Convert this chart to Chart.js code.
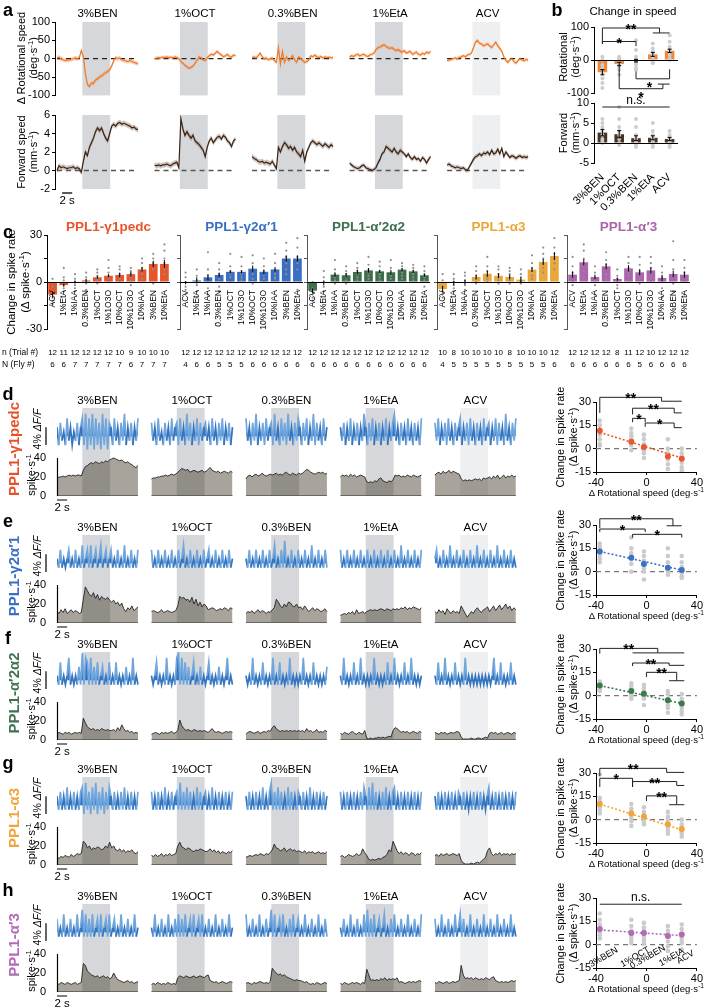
<!DOCTYPE html>
<html>
<head>
<meta charset="utf-8">
<title>PPL1 spike rate and walking speed</title>
<script src="https://cdn.jsdelivr.net/npm/chart.js@4.4.1/dist/chart.umd.min.js"></script>
<style>
  body { margin: 0; background: #fff; }
  #fig { position: relative; width: 704px; height: 1008px; overflow: hidden; background: #fff; }
  #fig canvas { position: absolute; }
  .t { position: absolute; white-space: nowrap; color: #000; font-family: "Liberation Sans", Arial, sans-serif; line-height: 1; }
  .t sup { font-size: 70%; }
</style>
</head>
<body>
<div id="fig"></div>
<script>
// odours used in a, b and d-h
const odors = ['3%BEN', '1%OCT', '0.3%BEN', '1%EtA', 'ACV'];

// ---- panel a: mean traces (0.4 s bins, 16 s per trial)
const rotBEN3 = [2,4,0,-3,-5,-4,-4,-2,0,2,0,3,22, 5,-40,-70,-76,-66,-68,-58,-55,-50,-47,-42,-38,-35,-30, -20,-5,3,0,2,-3,-5,-6,-8,-5,-8,-10,-12,-14];
const rotOCT1 = [0,2,3,2,4,3,5,3,4,2,5,3,0, -8,-12,-18,-22,-26,-24,-20,-12,-5,5,2,-3,-5,3, 8,12,10,15,20,14,10,5,8,12,6,4,10,8];
const rotBEN03 = [3,5,2,8,15,5,0,2,-3,0,2,-5,-10, 30,-15,20,-10,5,-5,0,8,-3,-10,5,0,-5,-10, -8,-3,8,5,10,5,3,6,2,5,3,4,2,3];
const rotEtA1 = [5,8,6,10,12,8,10,12,8,6,10,12,15, 25,30,32,35,38,33,30,28,30,25,22,25,20,18, 22,15,18,20,12,15,18,12,10,15,12,18,15,20];
const rotACV = [-5,-4,-2,0,2,0,3,5,8,5,10,12,15, 30,45,50,42,40,35,38,40,35,30,38,45,35,28, 20,5,-5,-10,-3,0,-8,-12,-5,0,-3,-6,-2,-4];
const rotTraceSem = [6, 5, 5, 5, 5];

const fwdBEN3 = [0,0.5,0.3,0.4,0.3,0.2,0.3,0.3,0.4,0.2,0.3,0.2,-0.2, 1.0,2.0,1.6,2.5,3.0,3.5,4.2,4.6,4.3,4.6,4.0,3.5,3.2,4.0, 4.8,5.0,4.8,5.1,5.2,5.0,5.1,5.0,4.9,4.8,4.6,4.7,4.5,4.4];
const fwdOCT1 = [0.6,0.5,0.6,0.5,0.6,0.6,0.7,0.6,0.5,0.7,0.8,0.9,0.3, 5.6,4.5,3.8,4.2,3.8,3.5,3.8,3.2,3.0,2.8,2.5,2.2,1.5,2.5, 3.2,3.5,3.0,3.3,3.6,3.7,3.4,3.8,3.6,3.2,3.0,2.6,3.2,3.4];
const fwdBEN03 = [1.5,1.3,1.2,1.0,0.9,1.0,0.8,0.9,0.8,0.7,1.0,0.6,0.2, 2.5,2.0,2.6,3.0,2.8,2.4,2.6,2.2,2.5,2.0,1.8,1.5,2.2,1.0, 2.0,2.5,3.0,3.2,3.0,2.8,3.0,2.8,2.6,2.9,2.7,2.5,2.8,2.6];
const fwdEtA1 = [0.8,0.6,0.4,0.3,0.2,0.3,0.5,0.6,0.3,0.2,0.1,0.0,0.1, 0.3,0.8,1.2,1.8,2.0,2.6,2.4,2.2,2.0,2.4,2.0,1.8,2.2,2.0, 1.8,1.5,1.8,1.4,1.2,1.5,1.2,1.3,1.0,1.4,1.2,0.8,1.2,1.5];
const fwdACV = [0.6,0.7,0.5,0.4,0.3,0.4,0.3,0.2,0.3,0.1,0.0,0.4,0.8, 1.2,1.5,1.6,1.8,1.6,1.9,1.8,2.0,1.7,2.2,1.8,1.9,2.3,1.8, 2.4,1.5,2.0,1.7,1.4,1.6,1.5,1.3,1.5,1.6,1.4,1.5,1.4,1.5];
const fwdTraceSem = [0.3, 0.3, 0.3, 0.25, 0.25];

// ---- panel b: change in speed
const rotMean = [-37, -12, -2, 17, 28];
const rotSem = [8, 5, 4, 6, 5];
const rotDots = [[10,0,-15,-25,-40,-55,-70,-85],[10,5,0,-5,-12,-20,-30,-45],[60,30,10,0,-8,-15,-25,-30],[50,35,25,15,8,0,-5,-10],[75,55,40,30,25,15,5,0]];
const fwdMean = [2.6, 2.2, 1.2, 1.3, 1.0];
const fwdSem = [0.8, 0.9, 0.6, 0.5, 0.4];
const fwdDots = [[6,5,4,3,2,1,0.5,0],[9,6,4,3,2,1,0,-0.5],[6,4,2,1,0.5,0,-0.5,-1],[5,3,2,1,0.5,0,-0.5,-1],[3,2,1.5,1,0.5,0,-0.5,-1]];
const rotBrackets = [
  {x1: 0, x2: 3.4, y: 97, y1: 50, y2: 82, sub: [3, 4], t: '**'},
  {x1: 0, x2: 2, y: 56, y1: 48, y2: 42, t: '*'},
  {x1: 2, x2: 4, y: -57, y1: -35, y2: -28, t: '*', tx: 2.8},
  {x1: 1, x2: 3.6, y: -87, y1: -15, y2: -73, sub: [3.3, 4], t: '*'}
];
const fwdBrackets = [{x1: 0, x2: 4, y: 9, y1: 9, y2: 9, t: 'n.s.'}];

// ---- panel c: change in spike rate per odour
const cOdors = ['ACV','1%EtA','1%IAA','0.3%BEN','1%OCT','1%1O3O','10%OCT','10%1O3O','10%IAA','3%BEN','10%EtA'];
const cNames = ['PPL1-γ1pedc', 'PPL1-γ2α′1', 'PPL1-α′2α2', 'PPL1-α3', 'PPL1-α′3'];
const cColors = ['#e8552b', '#3a6ec3', '#3e6f4c', '#eaa73b', '#ad63ae'];
const meanG1pedc = [-8, -2, 0, 1, 3, 4, 4.5, 5, 8, 11.5, 11.5];
const meanG2a1 = [-0.5, 1, 3, 4.5, 6.5, 6.5, 8.5, 6.5, 8, 15, 15];
const meanA2a2 = [-5.5, -0.5, 4.7, 4.3, 6.4, 7.4, 6.8, 6.2, 7.9, 6.8, 4.3];
const meanA3 = [-4.5, -0.6, 0, 3.2, 5.3, 4, 3.2, 1.5, 7.9, 12.8, 16.6];
const meanAp3 = [4.7, 12.6, 3.2, 10, 1.9, 8.7, 6.2, 7.4, 2.6, 5.1, 4.7];
const semG1pedc = [2, 1, 1, 1, 1, 1, 1.5, 1.5, 1.5, 2, 2.5];
const semG2a1 = [1, 2, 2, 1.5, 1, 1, 2, 1.5, 1.5, 2, 2];
const semA2a2 = [1.5, 1.5, 1.5, 1.5, 1.5, 1.5, 1, 1.5, 1, 1, 1];
const semA3 = [2, 1.5, 1.5, 1.5, 2, 1.5, 1.5, 1.5, 1.5, 2, 2.5];
const semAp3 = [2, 2, 1.5, 2, 1, 2, 2, 2, 2, 2, 2];
const dotsG1pedc = [[-3,-6,-10,-12,-14,-8,2],[9,3,1,-2,-4,-6],[5,2,0,-2,-4,-6],[6,3,1,-1,-5,-7],[8,6,4,2,1,-1],[14,9,6,4,2,0],[10,8,5,4,2,0],[9,7,5,3,1,-2],[15,12,9,7,5,2],[18,15,12,10,8,-1],[24,20,15,12,8,5]];
const dotsG2a1 = [[6,3,0,-3,-5,-8],[8,4,1,-2,-6,-10],[19,8,4,0,-4,-8],[12,8,5,2,-3,-6],[18,10,7,5,3,0],[16,10,7,5,3,1],[17,12,8,5,2,-1],[15,10,7,4,2,0],[18,12,8,5,3,2],[25,20,16,12,8,5],[28,22,16,12,8,-5]];
const dotsA2a2 = [[0,-4,-6,-8,-10,-12],[7,3,0,-3,-6,-11],[14,8,5,3,1,-1],[10,7,5,3,1,-1],[12,9,7,5,3,1],[16,11,8,6,4,2],[13,10,7,5,3,1],[14,9,6,4,2,0],[12,10,8,6,4,2],[11,9,7,5,3,1],[10,7,5,3,1,-3]];
const dotsA3 = [[5,1,-3,-6,-8,-10],[5,2,0,-2,-4,-6],[6,4,1,-2,-5,-13],[10,7,4,2,0,-1],[16,10,7,4,2,0],[10,8,5,3,1,-1],[9,7,5,3,1,-1],[8,5,3,1,0,-1],[17,12,9,7,4,2],[22,18,15,12,9,6],[28,22,18,15,12,8]];
const dotsAp3 = [[16,10,6,3,0,-2],[24,20,15,11,7,3],[10,6,3,1,-2,-8],[19,14,11,8,5,2],[8,4,2,0,-2,-4],[16,12,9,6,4,1],[16,11,7,4,2,-1],[16,12,9,6,3,0],[10,6,3,0,-4,-10],[26,14,8,4,-1,-6],[14,9,6,3,0,-8]];
const trialsG1pedc = [12,11,12,12,12,12,10,9,10,10,10];
const trialsG2a1 = [12,12,12,12,12,12,12,12,12,12,12];
const trialsA2a2 = [12,12,12,12,12,12,12,12,12,12,12];
const trialsA3 = [10,8,10,10,10,10,8,10,10,10,12];
const trialsAp3 = [12,12,12,12,8,11,12,10,12,12,12];
const fliesG1pedc = [6,6,7,7,7,7,7,6,7,7,7];
const fliesG2a1 = [4,6,6,5,5,5,6,6,6,6,6];
const fliesA2a2 = [6,6,6,6,6,6,6,6,6,6,6];
const fliesA3 = [4,5,5,5,5,5,5,5,5,5,6];
const fliesAp3 = [6,6,6,6,6,6,5,6,6,6,6];

// ---- panels d-h: ΔF/F traces (% , 1/3 s bins) and spike rate (spike/s, 0.4 s bins)
const blueG1pedc = [
  [2,-2,3,-1,1,-2,4,-1,2,-2,1,-1,3,-2,2, 4,-2,5,-3,4,-2,5,-3,4,-2,3,-3,5,-2,4,-3,3, 2,-2,4,-1,2,-2,3,-1,5,-2,2,-1,3,-2,2,-1,4],
  [3,-1,2,-2,4,-1,1,-2,3,-1,2,-2,4,-1,2, 3,-2,4,-1,2,-2,5,-1,3,-2,2,-1,4,-2,3,-1,2, 3,-1,2,-2,4,-1,2,-2,3,-1,4,-2,2,-1,3,-2,2],
  [4,-1,2,-2,3,-1,5,-2,2,-1,3,-2,4,-1,2, 3,-2,5,-1,2,-2,4,-1,3,-2,5,-1,2,-2,3,-1,4, 2,-2,3,-1,4,-2,2,-1,5,-2,3,-1,2,-2,4,-1,2],
  [2,-1,3,-2,2,-1,4,-2,2,-1,3,-2,2,-1,5, 2,-2,3,-1,4,-2,2,-1,3,-2,2,-1,4,-2,2,-1,3, 5,-1,2,-2,3,-1,2,-2,4,-1,2,-2,3,-1,2,-2,4],
  [3,-1,4,-2,2,-1,3,-2,4,-1,2,-2,3,-1,2, 4,-2,2,-1,3,-2,4,-1,2,-2,3,-1,2,-2,4,-1,2, 3,-2,2,-1,4,-2,3,-1,2,-2,5,-1,2,-2,3,-1,4]
];
const blueG2a1 = [
  [1,-1,3,-1,1,-1,1,3,-1,1,-1,3,-1,1,-1, 4,-1,1,3,-1,4,-1,1,3,-1,1,4,-1,1,3,-1,1, 3,-1,1,-1,3,-1,1,-1,4,-1,1,-1,3,-1,1,-1,3],
  [3,-1,1,-1,3,-1,1,-1,3,-1,1,-1,3,-1,1, -1,3,-1,1,4,-1,1,-1,3,-1,1,-1,3,-1,1,-1,3, -1,1,3,-1,1,-1,3,-1,1,-1,3,-1,1,-1,3,-1,1],
  [1,-1,3,-1,1,-1,3,-1,1,-1,3,-1,1,-1,3, -1,1,4,-1,1,-1,3,-1,5,-1,1,-1,3,-1,1,-1,3, -1,1,-1,3,-1,1,-1,4,-1,1,-1,3,-1,1,-1,3,-1],
  [3,-1,1,-1,3,-1,1,-1,3,-1,1,-1,3,-1,1, -1,3,-1,1,-1,3,-1,1,-1,3,-1,1,-1,3,-1,1,-1, 3,-1,1,-1,4,-1,1,-1,3,-1,1,-1,3,-1,1,-1,3],
  [1,3,-1,1,-1,3,-1,1,-1,4,-1,1,-1,3,-1, 1,-1,3,-1,1,-1,3,-1,1,-1,4,-1,1,-1,3,-1,1, -1,3,-1,1,-1,4,-1,1,-1,3,-1,1,-1,3,-1,1,-1]
];
const blueA2a2 = [
  [1,-1,4,-1,1,-1,1,5,-1,1,-1,1,-1,3,-1, 6,-1,5,4,-1,5,-1,3,-1,4,-1,1,3,-1,1,-1,4, -1,1,-1,4,-1,1,-1,1,-1,3,-1,1,-1,5,-1,1,-1],
  [1,-1,1,4,-1,1,-1,1,-1,5,-1,1,-1,1,-1, 5,6,-1,5,-1,4,-1,3,-1,1,4,-1,1,-1,3,-1,1, -1,1,4,-1,1,-1,1,-1,3,-1,1,-1,1,5,-1,1,-1],
  [1,-1,1,-1,5,-1,1,-1,1,-1,4,-1,1,-1,1, -1,5,-1,1,-1,4,-1,1,-1,1,-1,5,-1,1,-1,1,-1, 1,-1,5,-1,1,-1,1,-1,4,-1,1,-1,1,-1,1,-1,3],
  [1,-1,5,-1,1,-1,1,-1,4,-1,1,-1,5,-1,1, -1,1,-1,1,-1,5,-1,1,-1,1,-1,1,-1,4,-1,1,-1, 5,-1,1,-1,1,-1,4,-1,1,-1,5,-1,1,-1,1,-1,1],
  [1,-1,4,-1,1,-1,5,-1,1,-1,1,-1,4,-1,1, -1,1,-1,5,-1,1,-1,1,-1,1,-1,1,-1,1,-1,1,-1, 1,-1,1,5,-1,1,-1,4,-1,1,-1,1,-1,4,-1,1,-1]
];
const blueA3 = [
  [2,-1,3,-1,2,-1,4,-1,2,-1,3,-1,2,-1,3, 4,-2,5,-1,3,-2,4,-1,5,-2,3,-1,4,-2,3,-1,4, 2,-1,3,-1,2,-1,3,-1,4,-1,2,-1,3,-1,2,-1,3],
  [3,-1,2,-1,3,-1,2,-1,4,-1,2,-1,3,-1,2, 3,-1,5,-1,3,-1,4,-1,3,-1,2,-1,4,-1,3,-1,2, 3,-1,2,-1,4,-1,2,-1,3,-1,2,-1,3,-1,2,-1,3],
  [2,-1,3,-1,2,-1,3,-1,2,-1,4,-1,2,-1,3, 5,-1,3,-1,4,-1,3,-1,2,-1,4,-1,3,-1,2,-1,3, 2,-1,3,-1,2,-1,4,-1,2,-1,3,-1,2,-1,3,-1,2],
  [3,-1,2,-1,3,-1,2,-1,3,-1,2,-1,3,-1,4, 2,-1,4,-1,5,-1,3,-1,2,-1,3,-1,4,-1,2,-1,3, 4,-1,2,-1,3,-1,2,-1,3,-1,2,-1,3,-1,2,-1,3],
  [2,-1,3,-1,2,-1,3,-1,2,-1,3,-1,2,-1,3, 2,-1,3,-1,2,-1,2,-1,3,-1,2,-1,3,-1,2,-1,2, 4,-1,2,-1,3,-1,2,-1,3,-1,2,-1,3,-1,2,-1,3]
];
const blueAp3 = [
  [3,-1,1,-1,4,-1,1,-1,3,-1,1,-1,4,-1,1, 5,-1,4,-1,3,-1,4,-1,1,3,-1,4,-1,1,3,-1,4, -1,1,3,-1,1,-1,4,-1,1,-1,3,-1,1,-1,4,-1,1],
  [1,-1,4,-1,1,-1,3,-1,1,-1,4,-1,1,-1,3, -1,4,-1,3,-1,4,-1,1,3,-1,4,-1,1,3,-1,4,-1, 1,-1,3,-1,1,-1,4,-1,1,-1,3,-1,1,-1,4,-1,1],
  [4,-1,1,-1,3,-1,1,-1,4,-1,1,-1,3,-1,1, 5,-1,4,-1,1,3,-1,4,-1,1,-1,3,-1,4,-1,1,3, -1,1,-1,4,-1,1,-1,3,-1,1,-1,4,-1,1,-1,3,-1],
  [1,-1,3,-1,1,-1,4,-1,1,-1,3,-1,1,-1,4, -1,5,-1,3,-1,4,-1,1,3,-1,1,4,-1,1,-1,3,-1, 4,-1,1,-1,3,-1,1,-1,4,-1,1,-1,3,-1,1,-1,4],
  [3,-1,1,-1,4,-1,1,-1,3,-1,1,-1,4,-1,1, 4,-1,3,-1,1,-1,4,-1,1,-1,3,-1,1,-1,4,-1,1, -1,3,-1,1,-1,4,-1,1,-1,3,-1,1,-1,4,-1,1,-1]
];
const spikeG1pedc = [
  [18,20,20,21,20,21,22,21,22,21,22,22,21, 27,31,32,34,35,34,36,35,34,36,35,37,36,38, 39,40,39,38,37,38,36,35,36,34,33,31,30,32],
  [18,19,19,20,20,21,21,22,21,22,23,22,23, 25,27,29,28,27,28,25,26,27,26,25,26,27,25, 26,28,30,27,26,25,26,24,25,26,25,24,26,25],
  [18,21,22,20,22,23,21,22,24,22,21,22,23, 22,23,24,22,23,22,24,25,23,22,24,23,22,24, 23,24,26,28,27,25,24,23,24,25,24,25,23,24],
  [20,22,21,22,20,23,21,22,20,21,22,21,20, 15,14,15,14,16,15,18,19,16,15,14,16,15,17, 22,21,22,20,21,20,22,21,20,22,21,20,21,22],
  [22,24,25,23,26,24,25,27,24,26,25,24,23, 18,16,17,16,17,16,17,18,17,18,16,19,18,19, 20,18,21,19,22,18,20,22,19,21,20,22,20,21]
];
const spikeG2a1 = [
  [12,10,14,11,15,10,12,14,11,13,12,10,11, 25,38,34,30,28,32,26,30,24,28,26,25,27,24, 22,24,20,22,18,21,15,12,16,14,18,13,15,17],
  [12,13,12,11,12,14,11,12,13,12,11,12,13, 18,28,26,27,24,25,22,27,20,25,18,22,17,20, 18,14,15,16,15,13,14,15,14,16,15,13,16,15],
  [10,12,11,13,10,12,14,11,13,12,10,12,11, 14,16,25,22,18,16,20,17,22,21,18,17,20,16, 17,14,18,15,12,14,16,13,15,14,12,13,15,12],
  [8,9,10,9,11,10,12,9,14,10,11,12,10, 12,13,14,13,14,13,14,15,14,13,15,14,13,15, 14,15,14,16,15,17,14,16,15,17,16,15,14,16],
  [12,10,14,11,13,9,15,12,10,13,11,12,10, 18,14,10,6,9,12,10,14,16,13,11,14,15,17, 12,15,18,13,16,19,14,17,20,15,18,13,16,14]
];
const spikeA2a2 = [
  [6,8,7,6,8,7,8,6,7,8,7,8,7, 23,18,14,12,11,12,10,11,10,12,11,10,11,10, 10,11,9,13,10,16,12,9,10,8,9,7,8,7],
  [6,7,8,7,6,8,7,8,7,8,9,7,8, 10,21,15,12,10,11,10,9,11,10,9,10,9,10, 9,8,10,12,9,8,9,8,7,8,9,8,9,8],
  [6,8,9,8,7,8,9,7,8,9,8,10,9, 13,15,12,10,9,10,9,10,9,10,9,10,9,10, 9,10,8,12,9,10,8,9,11,8,9,8,10,9],
  [7,6,8,7,6,8,9,7,6,8,7,6,10, 2,1,2,1,2,2,3,2,3,2,3,4,3,10, 13,12,10,8,9,8,9,7,8,9,8,7,9,8],
  [8,7,6,8,7,8,6,7,8,7,8,9,8, 3,1,1,1,1,2,1,1,2,2,1,2,3,2, 7,8,7,8,6,7,8,6,7,8,7,6,8,7]
];
const spikeA3 = [
  [8,7,9,8,10,9,8,11,9,10,12,11,12, 25,23,18,20,16,18,17,19,18,16,17,20,18,24, 18,20,16,15,17,14,16,13,15,14,16,13,12,14],
  [10,9,11,9,10,12,9,11,10,12,10,11,12, 20,24,19,18,16,18,17,15,14,16,15,17,16,15, 14,15,17,14,16,13,15,12,14,13,12,14,13,15],
  [8,9,10,9,10,11,10,12,11,10,12,11,13, 16,22,18,17,15,16,18,14,16,17,15,16,14,15, 14,13,15,12,14,13,14,12,13,14,12,13,12,14],
  [9,10,8,9,11,10,9,10,12,10,11,17,13, 10,6,5,6,5,6,7,6,8,9,11,16,14,25, 20,15,12,14,11,13,12,10,13,12,10,12,11,13],
  [10,11,9,12,10,11,12,10,11,12,11,10,12, 5,2,1,1,1,2,1,2,3,2,4,6,8,15, 18,12,10,12,11,13,10,12,11,12,10,12,11,12]
];
const spikeAp3 = [
  [9,8,10,9,8,10,9,8,9,10,8,9,10, 30,28,22,20,18,17,16,17,15,16,17,15,16,14, 15,20,16,13,12,11,10,11,12,10,11,9,10,11],
  [8,9,8,10,9,8,9,8,10,9,8,9,8, 15,17,16,15,17,16,15,16,17,15,16,17,16,15, 17,18,12,11,10,11,9,10,11,10,9,10,11,10],
  [9,10,9,8,10,9,10,11,10,9,10,9,11, 25,22,20,18,19,17,18,16,15,14,13,12,13,12, 12,11,10,11,9,8,9,8,10,9,8,9,10,9],
  [9,8,10,9,8,9,10,9,10,9,8,10,9, 24,18,12,13,12,13,12,14,13,15,12,14,13,14, 13,15,10,11,10,9,10,11,10,11,10,11,12,11],
  [10,9,11,10,9,10,11,9,10,11,10,11,12, 28,18,14,15,14,15,13,15,14,13,14,13,15,14, 13,15,16,12,11,10,11,10,11,10,11,12,11,12]
];

// ---- right column: spike-rate change vs rotational speed
const corrMeanG1pedc = [11.5, 4.5, 1, -5, -6.5];
const corrMeanG2a1 = [13, 9, 5, 2.5, 1];
const corrMeanA2a2 = [6.5, 3, 1.2, -3, -5];
const corrMeanA3 = [10, 4, 2, -3, -6];
const corrMeanAp3 = [10, 7.5, 7.5, 5.5, 6.5];
const corrSemG1pedc = [2.5, 1.5, 1.5, 1.5, 1.5];
const corrSemG2a1 = [1.5, 1.5, 1.5, 1.2, 1.2];
const corrSemA2a2 = [1.2, 1.2, 1.2, 1.5, 1.5];
const corrSemA3 = [2, 1.5, 1.5, 1.5, 1.5];
const corrSemAp3 = [2, 1.5, 1.5, 1.5, 1.5];
const corrFit = [[10.5, -6], [13, 1], [6.5, -5], [10, -6.5], [9.5, 5.8]];
const corrDotsG1pedc = [[18,15,12,9,6,3,2],[13,10,8,6,4,2,-1],[9,6,3,1,-1,-3,-6],[6,0,-3,-5,-7,-10,-13],[0,-3,-5,-7,-9,-12,-14]];
const corrDotsG2a1 = [[18,16,14,12,10,8,6],[22,15,12,10,8,5,0],[13,10,7,5,2,0,-5],[15,10,6,3,1,0,-2],[10,6,3,1,-1,-3,-4]];
const corrDotsA2a2 = [[9,8,7,6,5,4,3],[8,6,4,3,1,0,-2],[7,5,3,1,0,-2,-6],[3,1,-2,-4,-6,-8,-11],[1,-2,-4,-6,-8,-10,-12]];
const corrDotsA3 = [[29,14,12,10,8,6,4],[10,7,5,3,1,-1,-4],[8,5,3,1,0,-2,-3],[5,2,0,-3,-5,-7,-9],[0,-3,-5,-6,-8,-9,-11]];
const corrDotsAp3 = [[20,16,13,10,8,6,4],[16,12,9,7,5,3,1],[14,11,9,7,5,3,1],[12,9,7,5,2,-1,-4],[13,10,7,5,3,1,-3]];
const corrBrackets = [
  [{x1: -37, x2: 12, y: 33, y1: 23, y2: 30.5, sub: [12, 28], t: '**'},
   {x1: -11, x2: 22, y: 26, y1: 22, y2: 23, sub: [22, 28], t: '**'},
   {x1: -11, x2: -1, y: 19.5, y1: 17, y2: 17, t: '*'},
   {x1: -1, x2: 22, y: 16.5, y1: 14, y2: 13.5, sub: [22, 28], t: '*'}],
  [{x1: -37, x2: 21, y: 34, y1: 28, y2: 29.5, sub: [16, 28], t: '**'},
   {x1: -37, x2: -1, y: 27.4, y1: 25.5, y2: 25.5, t: '*'},
   {x1: -11, x2: 28, y: 24, y1: 22, y2: 22, t: '*'}],
  [{x1: -37, x2: 9, y: 30.4, y1: 27, y2: 27.5, sub: [-11, 30], t: '**'},
   {x1: -11, x2: 18, y: 21, y1: 19, y2: 19.5, sub: [18, 30], t: '**'},
   {x1: 0, x2: 24, y: 15, y1: 12, y2: 9.6, sub: [18, 30], t: '**'}],
  [{x1: -37, x2: 16, y: 33, y1: 28, y2: 30.4, sub: [16, 30], t: '**'},
   {x1: -37, x2: -11, y: 26.6, y1: 21, y2: 21, t: '*'},
   {x1: -11, x2: 24, y: 24.5, y1: 21, y2: 22, sub: [24, 30], t: '**'},
   {x1: 0, x2: 24, y: 15.3, y1: 12, y2: 9.6, sub: [18, 30], t: '**'}],
  [{x1: -37, x2: 28, y: 26, y1: 26, y2: 26, t: 'n.s.'}]
];

// ---- styling / layout
const FONT = '"Liberation Sans", Arial, Helvetica, sans-serif';
const rowColors = ['#e8522a', '#3a6fc4', '#3f7350', '#efa53c', '#b56ab8'];
const corrColors = ['#e9582c', '#3a73c6', '#3d7a4c', '#f0a43a', '#b36ab5'];
const shadeCols = ['#d5d7da', '#d5d7da', '#d5d7da', '#d5d7da', '#eeeff1'];
const ODOR_ON = 5, ODOR_OFF = 10.5, TRIAL = 16;
const DT = 0.4, BLUE_DT = 1 / 3;
const GAP_A = 19.26, XMAX_A = 94.0;
const GAP_R = 18.67, XMAX_R = 91.5;
const F_BASE = 63, F_SCALE = 4.7, SPIKE_TH = F_BASE + 2.5 * F_SCALE;
const ROW_TOPS = [402, 529, 646, 771, 898];
const S_TOPS = [402, 525, 649, 773, 898];
const C_LEFT = [47, 180, 307, 437, 567], C_W = 126;

Chart.defaults.font.family = FONT;
Chart.defaults.font.size = 11;
Chart.defaults.color = '#000';
Chart.defaults.animation = false;
Chart.defaults.responsive = false;
Chart.defaults.plugins.legend.display = false;
Chart.defaults.plugins.tooltip.enabled = false;
Chart.defaults.elements.point.radius = 0;

const fig = document.getElementById('fig');

function addCanvas(x, y, w, h) {
  const c = document.createElement('canvas');
  c.width = w; c.height = h;
  c.style.left = x + 'px'; c.style.top = y + 'px';
  c.style.width = w + 'px'; c.style.height = h + 'px';
  fig.appendChild(c);
  return c;
}

function txt(html, x, y, size, extra) {
  const d = document.createElement('div');
  d.className = 't';
  d.innerHTML = html;
  d.style.left = x + 'px';
  d.style.top = y + 'px';
  d.style.fontSize = size + 'px';
  let tr = 'translate(-50%,-50%)';
  if (extra && extra.rot) tr += ' rotate(' + extra.rot + 'deg)';
  d.style.transform = tr;
  if (extra && extra.color) d.style.color = extra.color;
  if (extra && extra.bold) d.style.fontWeight = 'bold';
  fig.appendChild(d);
}

function drawShades(chart, offs) {
  const {ctx, chartArea: a, scales: {x}} = chart;
  ctx.save();
  offs.forEach((off, k) => {
    const x0 = x.getPixelForValue(off + ODOR_ON), x1 = x.getPixelForValue(off + ODOR_OFF);
    ctx.fillStyle = shadeCols[k];
    ctx.fillRect(x0, a.top, x1 - x0, a.bottom - a.top);
  });
  ctx.restore();
}

function drawZero(chart) {
  const {ctx, chartArea: a, scales: {y}} = chart;
  const yy = Math.round(y.getPixelForValue(0)) + 0.5;
  ctx.save();
  ctx.strokeStyle = '#000'; ctx.lineWidth = 1;
  ctx.beginPath(); ctx.moveTo(a.left, yy); ctx.lineTo(a.right, yy); ctx.stroke();
  ctx.restore();
}

function drawErrors(chart, dsIndex, means, errs, color, cap) {
  const meta = chart.getDatasetMeta(dsIndex);
  const y = chart.scales.y, ctx = chart.ctx;
  ctx.save();
  ctx.strokeStyle = color; ctx.lineWidth = 1;
  meta.data.forEach((el, i) => {
    const y0 = y.getPixelForValue(means[i] - errs[i]), y1 = y.getPixelForValue(means[i] + errs[i]);
    ctx.beginPath();
    ctx.moveTo(el.x, y0); ctx.lineTo(el.x, y1);
    if (cap) {
      ctx.moveTo(el.x - cap, y0); ctx.lineTo(el.x + cap, y0);
      ctx.moveTo(el.x - cap, y1); ctx.lineTo(el.x + cap, y1);
    }
    ctx.stroke();
  });
  ctx.restore();
}

function drawBrackets(chart, list) {
  const {ctx, scales: {x, y}} = chart;
  ctx.save();
  ctx.strokeStyle = '#222'; ctx.fillStyle = '#000'; ctx.lineWidth = 1;
  list.forEach(b => {
    const X1 = x.getPixelForValue(b.x1), X2 = x.getPixelForValue(b.x2), Y = y.getPixelForValue(b.y);
    ctx.beginPath();
    ctx.moveTo(X1, y.getPixelForValue(b.y1)); ctx.lineTo(X1, Y);
    ctx.lineTo(X2, Y); ctx.lineTo(X2, y.getPixelForValue(b.y2));
    if (b.sub) {
      ctx.moveTo(x.getPixelForValue(b.sub[0]), y.getPixelForValue(b.y2));
      ctx.lineTo(x.getPixelForValue(b.sub[1]), y.getPixelForValue(b.y2));
    }
    ctx.stroke();
    const tx = b.tx !== undefined ? x.getPixelForValue(b.tx) : (X1 + X2) / 2;
    ctx.textAlign = 'center';
    ctx.textBaseline = 'alphabetic';
    if (b.t === 'n.s.') {
      ctx.font = '12px ' + FONT;
      ctx.fillText(b.t, tx, Y - 3);
    } else {
      ctx.font = 'bold 14px ' + FONT;
      ctx.fillText(b.t, tx, b.y1 > b.y ? Y + 13 : Y + 6);
    }
  });
  ctx.restore();
}

// ---------------- panel a
function speedTraceChart(o) {
  const cv = addCanvas(0, o.top, 535, o.height);
  const offs = odors.map((_, k) => k * GAP_A);
  const datasets = [];
  o.traces.forEach((vals, k) => {
    const pts = vals.map((v, i) => ({x: offs[k] + i * DT, y: v}));
    datasets.push({data: pts.map(p => ({x: p.x, y: p.y + o.sem[k]})), borderWidth: 0, backgroundColor: o.band, fill: '+1', order: 3});
    datasets.push({data: pts.map(p => ({x: p.x, y: p.y - o.sem[k]})), borderWidth: 0, fill: false, order: 3});
    datasets.push({data: pts, borderColor: o.color, borderWidth: 1.2, order: 1});
    datasets.push({data: [{x: offs[k], y: 0}, {x: offs[k] + TRIAL, y: 0}], borderColor: o.dash, borderWidth: 1.3, borderDash: [5, 4], order: 2});
  });
  new Chart(cv, {
    type: 'line',
    data: {datasets},
    options: {
      layout: {padding: {top: o.padTop, bottom: o.padBottom, left: 0, right: 2}},
      scales: {
        x: {type: 'linear', min: -0.4, max: XMAX_A, display: false},
        y: {min: o.min, max: o.max, ticks: {stepSize: o.step, font: {size: 11}, padding: 2},
            grid: {drawOnChartArea: false, tickLength: 3, color: '#000'}, border: {color: '#000'},
            afterFit: s => { s.width = 55; }}
      }
    },
    plugins: [{
      id: 'speedDecor',
      beforeDatasetsDraw: c => drawShades(c, offs),
      afterDraw: c => {
        const {ctx, chartArea: a, scales: {x}} = c;
        ctx.save();
        ctx.fillStyle = '#000'; ctx.strokeStyle = '#000'; ctx.lineWidth = 1.3;
        ctx.font = '11.5px ' + FONT; ctx.textAlign = 'center'; ctx.textBaseline = 'middle';
        if (o.titles) offs.forEach((off, k) => ctx.fillText(odors[k], x.getPixelForValue(off + 8), a.top - 8));
        if (o.scaleBar) {
          ctx.beginPath();
          ctx.moveTo(x.getPixelForValue(1), a.bottom + 4); ctx.lineTo(x.getPixelForValue(3), a.bottom + 4);
          ctx.stroke();
          ctx.fillText('2 s', x.getPixelForValue(2), a.bottom + 12);
        }
        ctx.restore();
      }
    }]
  });
}

speedTraceChart({top: 6, height: 98, padTop: 16, padBottom: 8, traces: [rotBEN3, rotOCT1, rotBEN03, rotEtA1, rotACV],
  sem: rotTraceSem, color: '#f07a28', band: 'rgba(240,130,50,0.32)', dash: '#222', min: -100, max: 100, step: 50, titles: true});
speedTraceChart({top: 106, height: 99, padTop: 9, padBottom: 16, traces: [fwdBEN3, fwdOCT1, fwdBEN03, fwdEtA1, fwdACV],
  sem: fwdTraceSem, color: '#3a2314', band: 'rgba(110,80,60,0.32)', dash: '#555', min: -2, max: 6, step: 2, scaleBar: true});

// ---------------- panel b
function speedBarChart(o) {
  const cv = addCanvas(555, o.top, 130, o.height);
  const dots = [];
  o.dots.forEach((arr, i) => arr.forEach(v => dots.push({x: odors[i], y: v})));
  new Chart(cv, {
    type: 'bar',
    data: {labels: odors, datasets: [
      {data: o.means, backgroundColor: o.color, barPercentage: 0.57, categoryPercentage: 1, order: 1},
      {type: 'scatter', data: dots, pointRadius: 2, backgroundColor: '#cdcdcd', borderWidth: 0, order: 0}
    ]},
    options: {
      layout: {padding: {top: o.padTop, bottom: o.padBottom, left: 0, right: 7}},
      scales: {
        x: o.labels
          ? {ticks: {minRotation: 45, maxRotation: 45, font: {size: 11}, padding: 0, autoSkip: false}, grid: {display: false}, border: {display: false}, afterFit: s => { s.height = 62; }}
          : {display: false},
        y: {min: o.min, max: o.max, ticks: {stepSize: o.step, font: {size: 11}, padding: 2},
            grid: {drawOnChartArea: false, tickLength: 3, color: '#000'}, border: {color: '#000'},
            afterFit: s => { s.width = 39; }}
      }
    },
    plugins: [{
      id: 'barDecor',
      afterDatasetsDraw: c => { drawZero(c); drawErrors(c, 0, o.means, o.sem, '#000', 2); },
      afterDraw: c => drawBrackets(c, o.brackets)
    }]
  });
}
speedBarChart({top: 5, height: 97, padTop: 22, padBottom: 9, means: rotMean, sem: rotSem, dots: rotDots, color: '#f0883a',
  min: -100, max: 100, step: 100, brackets: rotBrackets});
speedBarChart({top: 92, height: 133, padTop: 11, padBottom: 0, means: fwdMean, sem: fwdSem, dots: fwdDots, color: '#4b3221',
  min: -5, max: 10, step: 5, brackets: fwdBrackets, labels: true});

// ---------------- panel c
const cMeans = [meanG1pedc, meanG2a1, meanA2a2, meanA3, meanAp3];
const cSems = [semG1pedc, semG2a1, semA2a2, semA3, semAp3];
const cDots = [dotsG1pedc, dotsG2a1, dotsA2a2, dotsA3, dotsAp3];
const cTrials = [trialsG1pedc, trialsG2a1, trialsA2a2, trialsA3, trialsAp3];
const cFlies = [fliesG1pedc, fliesG2a1, fliesA2a2, fliesA3, fliesAp3];

function groupChart(k) {
  const axisX = C_LEFT[k];
  const cvLeft = k === 0 ? 0 : axisX - 6;
  const cv = addCanvas(cvLeft, 218, axisX + C_W - cvLeft + 1, 152);
  const dots = [];
  cDots[k].forEach((arr, i) => arr.forEach(v => dots.push({x: cOdors[i], y: v})));
  new Chart(cv, {
    type: 'bar',
    data: {labels: cOdors, datasets: [
      {data: cMeans[k], backgroundColor: cColors[k], barPercentage: 0.78, categoryPercentage: 1, order: 1},
      {type: 'scatter', data: dots, pointRadius: 1.1, backgroundColor: '#8f8f8f', borderWidth: 0, order: 0}
    ]},
    options: {
      layout: {padding: {top: 17, bottom: 41, left: 0, right: 1}},
      scales: {
        x: {display: false},
        y: {min: -30, max: 30,
            ticks: {stepSize: 15, display: k === 0, font: {size: 11}, padding: 2, callback: v => (v % 30 === 0 ? v : '')},
            grid: {drawOnChartArea: false, tickLength: 3, color: k === 0 ? '#000' : '#555'},
            border: {color: k === 0 ? '#000' : '#555'},
            afterFit: s => { s.width = k === 0 ? 47 : 6; }}
      }
    },
    plugins: [{
      id: 'groupDecor',
      afterDatasetsDraw: c => { drawZero(c); drawErrors(c, 0, cMeans[k], cSems[k], '#000', 0); },
      afterDraw: c => {
        const {ctx, chartArea: a, scales: {x, y}} = c;
        ctx.save();
        ctx.textBaseline = 'middle';
        ctx.fillStyle = cColors[k]; ctx.font = 'bold 13.5px ' + FONT; ctx.textAlign = 'center';
        ctx.fillText(cNames[k], (a.left + a.right) / 2, a.top - 8);
        ctx.fillStyle = '#000';
        const y0 = y.getPixelForValue(0);
        cOdors.forEach((lab, i) => {
          const px = x.getPixelForValue(i);
          ctx.save();
          ctx.font = '8.5px ' + FONT;
          ctx.translate(px, y0 + 8); ctx.rotate(-Math.PI / 2);
          ctx.textAlign = 'right';
          ctx.fillText(lab, 0, 0);
          ctx.restore();
          ctx.font = '8px ' + FONT; ctx.textAlign = 'center';
          ctx.fillText(String(cTrials[k][i]), px, a.bottom + 24);
          ctx.fillText(String(cFlies[k][i]), px, a.bottom + 36);
        });
        if (k === 0) {
          ctx.font = '8.5px ' + FONT; ctx.textAlign = 'left';
          ctx.fillText('n (Trial #)', 2, a.bottom + 24);
          ctx.fillText('N (Fly #)', 2, a.bottom + 36);
        }
        ctx.restore();
      }
    }]
  });
}
for (let k = 0; k < 5; k++) groupChart(k);

// ---------------- panels d-h, imaging rows
const blueRows = [blueG1pedc, blueG2a1, blueA2a2, blueA3, blueAp3];
const spikeRows = [spikeG1pedc, spikeG2a1, spikeA2a2, spikeA3, spikeAp3];

function rowChart(r) {
  const T = ROW_TOPS[r];
  const cv = addCanvas(0, T - 14, 522, 124);
  const offs = odors.map((_, k) => k * GAP_R);
  const datasets = [];
  blueRows[r].forEach((vals, k) => {
    datasets.push({
      data: vals.map((v, i) => ({x: offs[k] + i * BLUE_DT, y: F_BASE + v * F_SCALE})),
      borderColor: '#3574be', borderWidth: 1.7, order: 1,
      fill: {value: F_BASE}, backgroundColor: '#3574be',
      segment: {borderColor: s => (s.p0.parsed.y > SPIKE_TH || s.p1.parsed.y > SPIKE_TH) ? '#6fa6de' : undefined}
    });
  });
  spikeRows[r].forEach((vals, k) => {
    datasets.push({data: vals.map((v, i) => ({x: offs[k] + i * DT, y: v})), borderColor: '#222', borderWidth: 0.9,
      backgroundColor: 'rgba(62,50,34,0.45)', fill: 'origin', order: 2});
    datasets.push({data: [{x: offs[k], y: 0}, {x: offs[k] + TRIAL, y: 0}], borderColor: '#555', borderWidth: 1.4, order: 0});
  });
  new Chart(cv, {
    type: 'line',
    data: {datasets},
    options: {
      layout: {padding: {top: 20, bottom: 16, left: 0, right: 2}},
      scales: {
        x: {type: 'linear', min: 0, max: XMAX_R, display: false},
        y: {min: 0, max: 92.6, afterBuildTicks: s => { s.ticks = [0, 20, 40].map(v => ({value: v})); },
            ticks: {font: {size: 11}, padding: 3}, grid: {display: false}, border: {display: false},
            afterFit: s => { s.width = 57; }}
      }
    },
    plugins: [{
      id: 'rowDecor',
      beforeDatasetsDraw: c => drawShades(c, offs),
      afterDraw: c => {
        const {ctx, chartArea: a, scales: {x, y}} = c;
        ctx.save();
        ctx.fillStyle = '#000'; ctx.strokeStyle = '#000'; ctx.lineWidth = 1.2;
        ctx.font = '11.5px ' + FONT; ctx.textAlign = 'center'; ctx.textBaseline = 'middle';
        offs.forEach((off, k) => ctx.fillText(odors[k], x.getPixelForValue(off + 8), a.top - 7));
        ctx.beginPath();
        ctx.moveTo(a.left + 0.5, y.getPixelForValue(0)); ctx.lineTo(a.left + 0.5, y.getPixelForValue(40));
        ctx.moveTo(x.getPixelForValue(0), a.bottom + 4); ctx.lineTo(x.getPixelForValue(2), a.bottom + 4);
        ctx.moveTo(a.left - 11, y.getPixelForValue(F_BASE - 2 * F_SCALE)); ctx.lineTo(a.left - 11, y.getPixelForValue(F_BASE + 2 * F_SCALE));
        ctx.stroke();
        ctx.fillText('2 s', x.getPixelForValue(1), a.bottom + 12);
        ctx.restore();
      }
    }]
  });
}
for (let r = 0; r < 5; r++) rowChart(r);

// ---------------- right column scatter plots
const corrMeans = [corrMeanG1pedc, corrMeanG2a1, corrMeanA2a2, corrMeanA3, corrMeanAp3];
const corrSems = [corrSemG1pedc, corrSemG2a1, corrSemA2a2, corrSemA3, corrSemAp3];
const corrDots = [corrDotsG1pedc, corrDotsG2a1, corrDotsA2a2, corrDotsA3, corrDotsAp3];

function corrChart(r) {
  const S = S_TOPS[r];
  const cv = addCanvas(540, S - 26, 164, 130);
  const col = corrColors[r];
  const dots = [];
  corrDots[r].forEach((arr, k) => arr.forEach(v => dots.push({x: rotMean[k], y: v})));
  const means = corrMeans[r].map((v, k) => ({x: rotMean[k], y: v}));
  new Chart(cv, {
    type: 'scatter',
    data: {datasets: [
      {data: means, pointRadius: 3, backgroundColor: col, borderWidth: 0, order: 0},
      {type: 'line', data: [{x: rotMean[0], y: corrFit[r][0]}, {x: rotMean[4], y: corrFit[r][1]}], borderColor: col, borderWidth: 1.6, borderDash: [2, 2], order: 1},
      {data: dots, pointRadius: 2.3, backgroundColor: '#cbcbcb', borderWidth: 0, order: 2},
      {type: 'line', data: [{x: -40, y: 0}, {x: 40, y: 0}], borderColor: '#777', borderWidth: 1.2, borderDash: [5, 4], order: 3}
    ]},
    options: {
      layout: {padding: {top: 26, right: 6, bottom: 0, left: 0}},
      scales: {
        x: {type: 'linear', min: -40, max: 40, ticks: {stepSize: 40, font: {size: 11}, padding: 1},
            grid: {drawOnChartArea: false, tickLength: 3, color: '#000'}, border: {color: '#000'},
            afterFit: s => { s.height = 34; }},
        y: {min: -15, max: 30, ticks: {stepSize: 15, font: {size: 11}, padding: 2},
            grid: {drawOnChartArea: false, tickLength: 3, color: '#000'}, border: {color: '#000'},
            afterFit: s => { s.width = 56; }}
      }
    },
    plugins: [{
      id: 'corrDecor',
      afterDatasetsDraw: c => drawErrors(c, 0, corrMeans[r], corrSems[r], col, 0),
      afterDraw: c => {
        drawBrackets(c, corrBrackets[r]);
        if (r === 4) {
          const {ctx, scales: {x, y}} = c;
          ctx.save();
          ctx.font = '9px ' + FONT; ctx.fillStyle = '#000'; ctx.textAlign = 'center'; ctx.textBaseline = 'middle';
          odors.forEach((lab, k) => {
            ctx.save();
            ctx.translate(x.getPixelForValue(rotMean[k] + 3), y.getPixelForValue(-8));
            ctx.rotate(-Math.PI / 6);
            ctx.fillText(lab, 0, 0);
            ctx.restore();
          });
          ctx.restore();
        }
      }
    }]
  });
}
for (let r = 0; r < 5; r++) corrChart(r);

// ---------------- text labels
const letters = [['a', 8, 10], ['b', 557, 10], ['c', 8, 232], ['d', 8, 394], ['e', 8, 521], ['f', 8, 638], ['g', 8, 763], ['h', 8, 890]];
letters.forEach(l => txt(l[0], l[1], l[2], 18, {bold: true}));

txt('Δ Rotational speed', 21, 58, 11, {rot: -90});
txt('(deg·s<sup>-1</sup>)', 33, 58, 11, {rot: -90});
txt('Forward speed', 21, 152, 11, {rot: -90});
txt('(mm·s<sup>-1</sup>)', 33, 152, 11, {rot: -90});

txt('Change in speed', 633, 12, 11.5);
txt('Rotational', 563, 57, 11, {rot: -90});
txt('(deg·s<sup>-1</sup>)', 575, 57, 11, {rot: -90});
txt('Forward', 563, 133, 11, {rot: -90});
txt('(mm·s<sup>-1</sup>)', 575, 133, 11, {rot: -90});

txt('Change in spike rate', 12, 282, 11.5, {rot: -90});
txt('(Δ spike·s<sup>-1</sup>)', 25, 282, 11.5, {rot: -90});

const rowNames = ['PPL1-γ1pedc', 'PPL1-γ2α′1', 'PPL1-α′2α2', 'PPL1-α3', 'PPL1-α′3'];
ROW_TOPS.forEach((T, r) => {
  txt(rowNames[r], 13, T + 47, 15, {rot: -90, bold: true, color: rowColors[r]});
  txt('4% <i>ΔF/F</i>', 37, T + 27, 10.5, {rot: -90});
  txt('spike·s<sup>-1</sup>', 31, T + 73, 11, {rot: -90});
});
S_TOPS.forEach(S => {
  txt('Change in spike rate', 560, S + 35, 11, {rot: -90});
  txt('(Δ spike·s<sup>-1</sup>)', 573, S + 35, 11, {rot: -90});
  txt('Δ Rotational speed (deg·s<sup>-1</sup>)', 648, S + 90, 9.5);
});
</script>
</body>
</html>
